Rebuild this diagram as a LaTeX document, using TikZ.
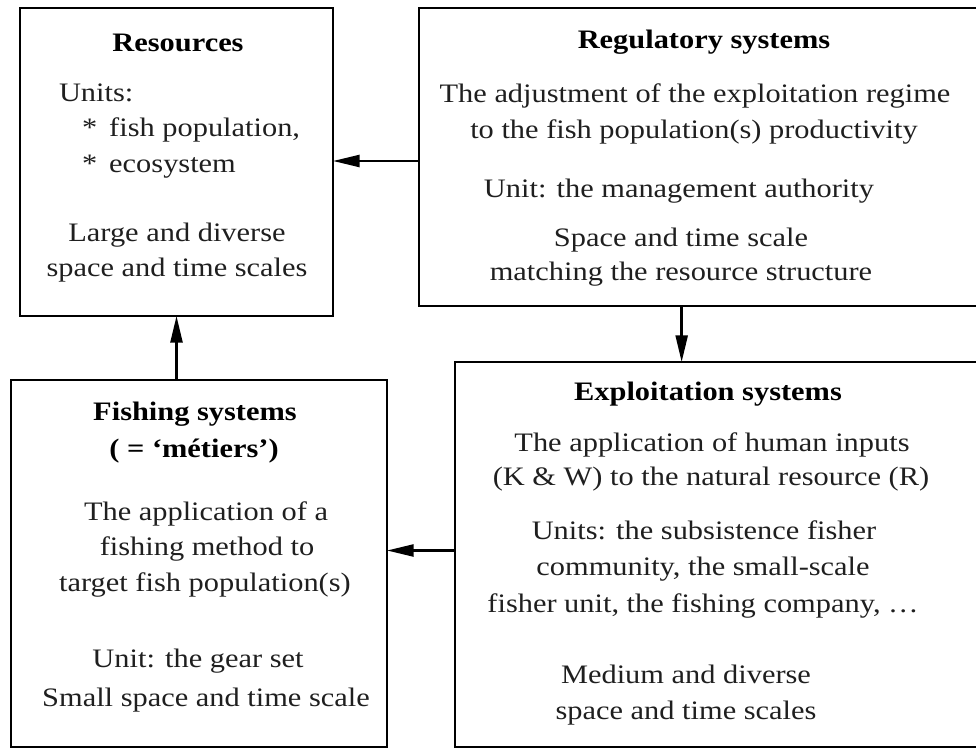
\documentclass[tikz,border=0pt]{standalone}
\usepackage{fontspec}
\setmainfont{Liberation Serif}[FakeStretch=1.14]
\usetikzlibrary{arrows.meta,calc}
\begin{document}
\begin{tikzpicture}[x=0.75pt,y=-0.75pt,
  box/.style={draw=black,line width=2pt,rectangle,anchor=north west,outer sep=0pt,inner sep=0pt},
  txt/.style={anchor=base,inner sep=0pt,outer sep=0pt,font=\fontsize{20}{24}\selectfont,text=black!88},
  ttl/.style={txt,font=\fontsize{20}{24}\selectfont\bfseries,text=black},
  lft/.style={txt,anchor=base west},
  arr/.style={line width=1.8pt,-{Triangle[length=20pt,width=9pt]}}]
\useasboundingbox (0,0) rectangle (976,749);
\clip (0,0) rectangle (976,749);
\fill[white] (0,0) rectangle (976,749);
% boxes
\node[box,minimum width=234.75pt,minimum height=231pt] (res) at (20,8) {};
\node[box,minimum width=450pt,minimum height=223.5pt] (reg) at (419,8) {};
\node[box,minimum width=282pt,minimum height=275.25pt] (fish) at (11,380) {};
\node[box,minimum width=405pt,minimum height=288.75pt] (expl) at (455,362) {};
% Resources
\node[ttl] (r1) at (178,52) {Resources};
\node[lft] (r2) at (59,102) {Units:};
\node[lft] (r3) at (82,137) {*\, fish population,};
\node[lft] (r4) at (82,173) {*\, ecosystem};
\node[txt] (r5) at (177,241) {Large and diverse};
\node[txt] (r6) at (177,276) {space and time scales};
% Regulatory
\node[ttl] (g1) at (704,49) {Regulatory systems};
\node[txt] (g2) at (695,103) {The adjustment of the exploitation regime};
\node[txt] (g3) at (694,138) {to the fish population(s) productivity};
\node[txt] (g4) at (679,197) {Unit: the management authority};
\node[txt] (g5) at (681,247) {Space and time scale};
\node[txt] (g6) at (681,281) {matching the resource structure};
% Exploitation
\node[ttl] (e1) at (708,400) {Exploitation systems};
\node[txt] (e2) at (712,451) {The application of human inputs};
\node[txt] (e3) at (711,485) {(K \& W) to the natural resource (R)};
\node[txt] (e4) at (704,539) {Units: the subsistence fisher};
\node[txt] (e5) at (703,575) {community, the small-scale};
\node[txt] (e6) at (703,612) {fisher unit, the fishing company, …};
\node[txt] (e7) at (686,683) {Medium and diverse};
\node[txt] (e8) at (686,719) {space and time scales};
% Fishing
\node[ttl] (f1) at (195,420) {Fishing systems};
\node[ttl] (f2) at (194,457) {( = ‘métiers’)};
\node[txt] (f3) at (206,520) {The application of a};
\node[txt] (f4) at (207,555) {fishing method to};
\node[txt] (f5) at (205,591) {target fish population(s)};
\node[txt] (f6) at (198,667) {Unit: the gear set};
\node[txt] (f7) at (206,706) {Small space and time scale};
% arrows
\draw[arr] ([yshift=-3pt]reg.west) -- ([yshift=-3pt]reg.west -| res.east);
\draw[arr] ([xshift=-28pt]reg.south) -- ([xshift=-28pt]reg.south |- expl.north);
\draw[arr] (res.south |- fish.north) -- (res.south);
\draw[arr] ([yshift=3pt]expl.west) -- ([yshift=3pt]expl.west -| fish.east);
\end{tikzpicture}
\end{document}
